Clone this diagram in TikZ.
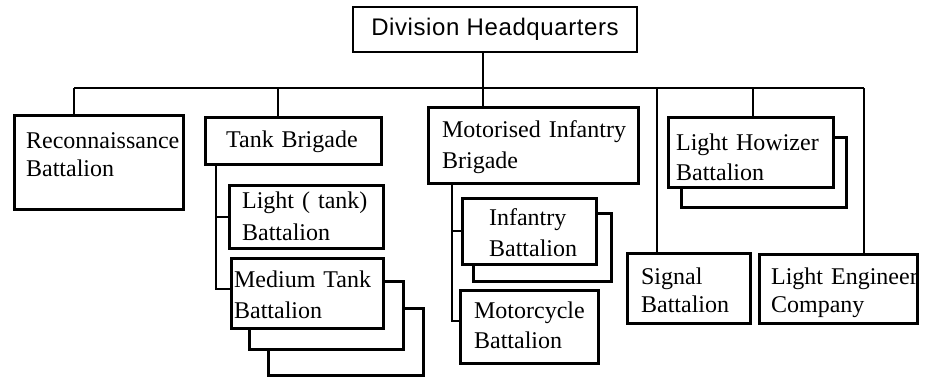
\documentclass[tikz,border=0pt]{standalone}
\usepackage{fontspec}
\setmainfont{Liberation Serif}
\newfontfamily\hqfont[LetterSpace=2.5]{Liberation Sans}
\begin{document}
\begin{tikzpicture}[x=1pt,y=-1pt,line width=2.2pt,line join=miter,
  box/.style={draw,fill=white,rectangle,inner sep=0pt,anchor=north west,line width=2.7pt},
  lbl/.style={anchor=base west,inner sep=0pt,text width=220pt,align=left,
    font=\fontsize{24}{#1}\selectfont},
  lbl/.default=28]
\useasboundingbox (0,0) rectangle (925,376);

% headquarters
\node[box,anchor=center,minimum width=284pt,minimum height=45pt,
  font=\hqfont\fontsize{24}{28}\selectfont] (hq) at (495,29.5) {Division Headquarters};

% stacked (multiple unit) boxes: back copies first
\node[box,minimum width=155pt,minimum height=67pt] (med3) at (267,307) {};
\node[box,minimum width=154pt,minimum height=68pt] (med2) at (248,280) {};
\node[box,minimum width=138pt,minimum height=68pt] (inf2) at (472,212) {};
\node[box,minimum width=165pt,minimum height=70pt] (how2) at (680,136) {};

% unit boxes
\node[box,minimum width=169pt,minimum height=94pt] (recon) at (13,114) {};
\node[box,minimum width=176pt,minimum height=47pt] (tank) at (204,116) {};
\node[box,minimum width=154pt,minimum height=63pt] (light) at (228,184) {};
\node[box,minimum width=152pt,minimum height=70pt] (med) at (230,257) {};
\node[box,minimum width=210pt,minimum height=76pt] (motor) at (427,106) {};
\node[box,minimum width=134pt,minimum height=66pt] (inf) at (461,197) {};
\node[box,minimum width=138pt,minimum height=73pt] (moto) at (459,289) {};
\node[box,minimum width=123pt,minimum height=70pt] (signal) at (626,252) {};
\node[box,minimum width=158pt,minimum height=69pt] (eng) at (758,253) {};
\node[box,minimum width=165pt,minimum height=70pt] (how) at (667,116) {};

% main distribution bus
\coordinate (busL) at (74,88);
\coordinate (busR) at (864,88);
\coordinate (dhq) at (483,88);
\draw (busL) -- (busR);
\draw (dhq) -- (dhq |- hq.south);
\foreach \x/\n in {74/recon,278/tank,483/motor,657/signal,753/how,864/eng}{
  \coordinate (d\n) at (\x,88);
  \draw (d\n) -- (d\n |- \n.north);
}

% brigade spines
\coordinate (tsp) at (216,0);
\draw (tsp |- tank.south) |- ([yshift=4pt]med.west);
\draw (tsp |- light.west) -- (light.west);
\coordinate (msp) at (452,0);
\draw (msp |- motor.south) |- ([yshift=6pt]moto.west);
\draw (msp |- inf.west) -- (inf.west);

% labels
\node[lbl] (recon-t) at (25,148) {Reconnaissance\\Battalion};
\node[lbl] (tank-t) at (225,147) {Tank Brigade};
\node[lbl=32] (light-t) at (241,208) {Light ( tank)\\Battalion};
\node[lbl=31] (med-t) at (233,287) {Medium Tank\\Battalion};
\node[lbl=31] (motor-t) at (441,137) {Motorised Infantry\\Brigade};
\node[lbl=31] (inf-t) at (488,225) {Infantry\\Battalion};
\node[lbl=30] (moto-t) at (473,318) {Motorcycle\\Battalion};
\node[lbl] (signal-t) at (640,284) {Signal\\Battalion};
\node[lbl] (eng-t) at (770,284) {Light Engineer\\Company};
\node[lbl=30] (how-t) at (675,150) {Light Howizer\\Battalion};
\end{tikzpicture}
\end{document}
